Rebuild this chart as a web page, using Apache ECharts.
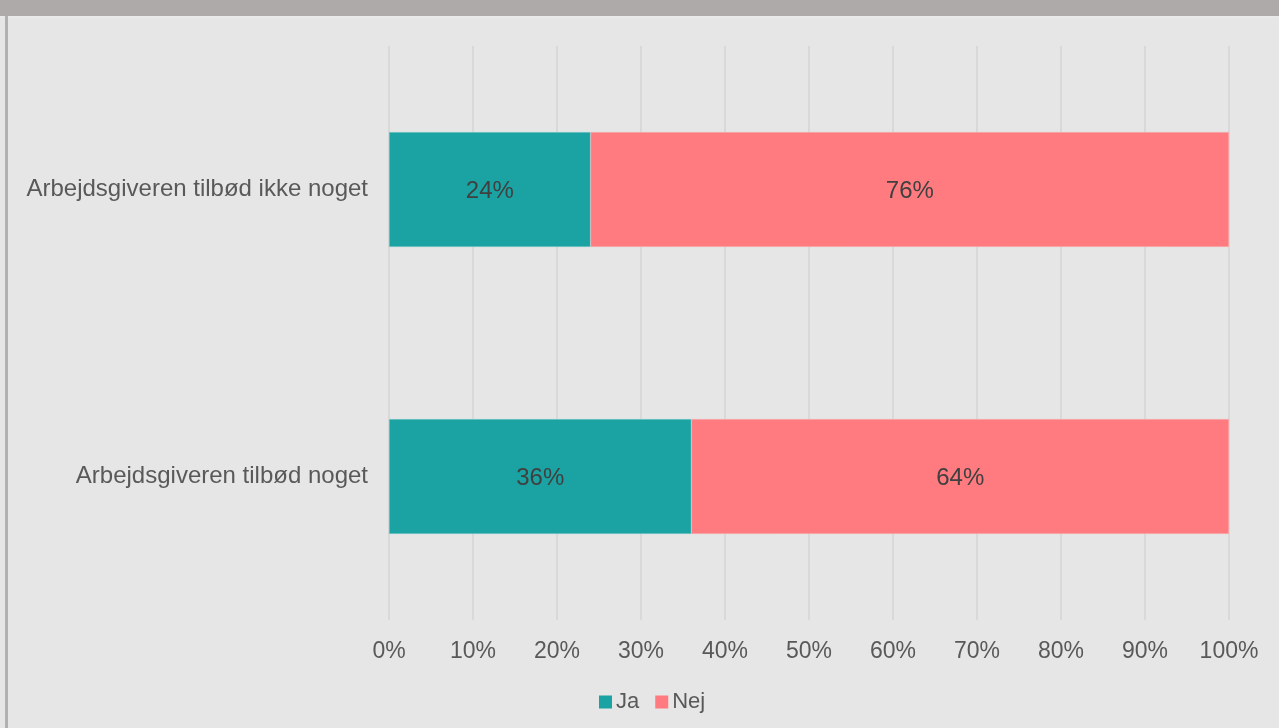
<!DOCTYPE html>
<html><head><meta charset="utf-8">
<script src="https://cdn.jsdelivr.net/npm/echarts@6/dist/echarts.min.js"></script>
<style>html,body{margin:0;padding:0;background:#e6e6e6;}#c{width:1279px;height:728px;}</style>
</head><body><div id="c"></div>
<script>
const categories = ["Arbejdsgiveren tilbød ikke noget", "Arbejdsgiveren tilbød noget"];
const jaValues = [24, 36];
const nejValues = [76, 64];
const seriesNames = ["Ja", "Nej"];

const chart = echarts.init(document.getElementById('c'));
const font = '"Liberation Sans", Arial, sans-serif';
chart.setOption({
  backgroundColor: '#e6e6e6',
  animation: false,
  graphic: [
    {type: 'rect', left: 0, top: 0, shape: {width: 1279, height: 16}, style: {fill: '#aeaaa9'}, silent: true},
    {type: 'rect', left: 0, top: 16, shape: {width: 1279, height: 2}, style: {fill: '#e9e9e9'}, silent: true},
    {type: 'rect', left: 5, top: 16, shape: {width: 3, height: 712}, style: {fill: '#b2b0b0'}, silent: true}
  ],
  grid: {left: 389, right: 50, top: 46, bottom: 108, containLabel: false},
  legend: {
    data: seriesNames, left: 599, top: 691, padding: 0, itemWidth: 13, itemHeight: 13, itemGap: 16,
    icon: 'rect',
    itemStyle: {borderWidth: 0},
    textStyle: {fontFamily: font, fontSize: 22, color: '#595959', padding: [0,0,0,-1]}
  },
  xAxis: {
    type: 'value', min: 0, max: 100, interval: 10,
    axisLabel: {formatter: '{value}%', fontFamily: font, fontSize: 23, color: '#595959', margin: 20},
    axisLine: {show: false}, axisTick: {show: false},
    splitLine: {show: true, lineStyle: {color: '#d9d9d9', width: 2}}
  },
  yAxis: {
    type: 'category', data: categories, inverse: true,
    axisLabel: {fontFamily: font, fontSize: 24, color: '#595959', margin: 21},
    axisLine: {show: false}, axisTick: {show: false}, splitLine: {show: false}
  },
  series: [
    {name: seriesNames[0], type: 'bar', stack: 't', data: jaValues, barWidth: '40%',
      itemStyle: {color: '#1aa3a2', borderColor: '#8fcfce', borderWidth: 0.5},
      label: {show: true, position: 'inside', formatter: '{c}%', fontFamily: font, fontSize: 24, color: '#404040', offset: [0, 2]}},
    {name: seriesNames[1], type: 'bar', stack: 't', data: nejValues, barWidth: '40%',
      itemStyle: {color: '#ff7b7f', borderColor: '#f5b8ba', borderWidth: 0.5},
      label: {show: true, position: 'inside', formatter: '{c}%', fontFamily: font, fontSize: 24, color: '#404040', offset: [0, 2]}}
  ]
});
</script></body></html>
